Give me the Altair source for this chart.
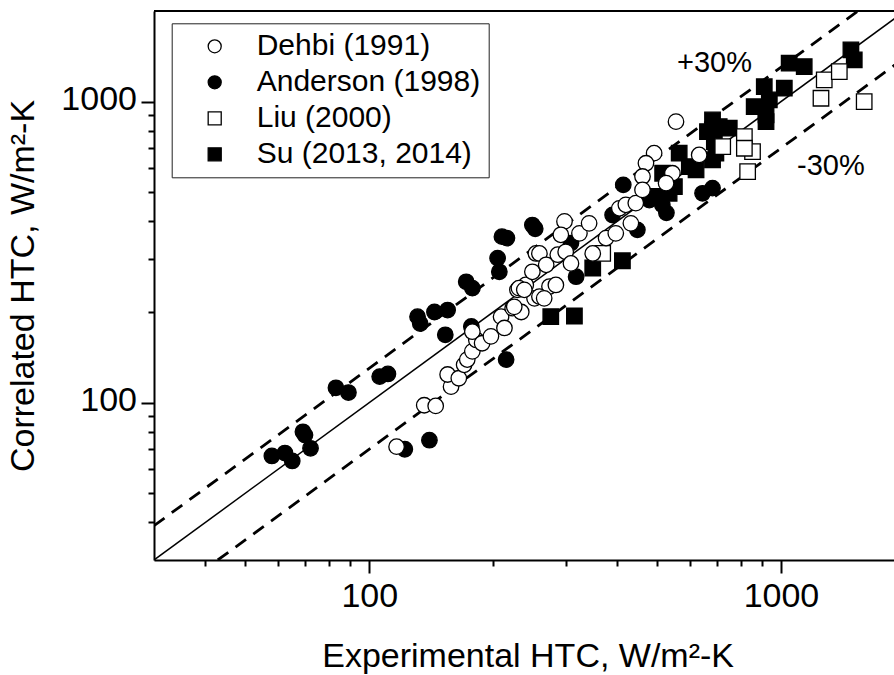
import altair as alt
import pandas as pd

SERIES = ["Dehbi (1991)", "Anderson (1998)", "Liu (2000)", "Su (2013, 2014)"]
SHAPES = ["circle", "circle", "square", "square"]
FILLS = ["white", "black", "white", "black"]
STROKES = ["black", "black", "black", "black"]

dehbi_x = [116.5, 136, 145, 158, 155, 165, 170, 173, 178, 182, 178, 188, 197.5, 209, 213, 223, 234,
           229, 240, 252, 249, 254, 298, 292, 324, 342, 376, 397, 259, 269, 287, 300, 309, 349, 274,
           284, 259, 266, 231, 238, 225, 405, 420, 432, 444, 556, 492, 470, 461, 633, 545, 526, 461]
dehbi_y = [71.4, 98, 97.5, 113, 124, 120.5, 133.5, 139, 148, 161.5, 172, 157.5, 166, 193, 177, 206, 200,
           237, 246, 222, 272, 313, 400, 361, 365, 394, 352, 365, 313, 287, 310, 317, 290, 313, 243,
           246, 225, 222, 240, 237, 208, 442, 454, 394, 460, 858, 674, 624, 564, 665, 578, 536, 509]

anderson_x = [58, 62.4, 65, 69, 69.8, 72, 83, 89, 106, 111, 122, 140, 131, 133, 144, 155, 153, 172, 178,
              205, 207, 210, 216, 249, 253, 215, 177, 318, 309, 390, 448, 515, 527, 645, 682, 414, 479]
anderson_y = [66.5, 68, 64, 80, 78, 70.5, 112, 108, 122, 124.5, 70, 75, 193, 183, 200, 203, 168, 252, 240,
              302, 272, 356, 352, 389, 378, 139, 179, 262, 339, 420, 375, 454, 427, 496, 516, 529, 471]

liu_x = [1274, 1386, 1251, 1593, 815, 853, 815, 722, 830, 369]
liu_y = [1181, 1258, 1026, 1000, 765, 682, 700, 709, 585, 313]

su_x = [1479, 1507, 1139, 1047, 911, 1019, 937, 861, 920, 920, 682, 708, 749, 663, 689, 695, 682, 566,
        622, 599, 516, 551, 535, 497, 349, 412, 276, 315]
su_y = [1485, 1376, 1307, 1342, 1121, 1108, 1013, 962, 903, 858, 869, 826, 816, 795, 736, 674, 640, 674,
        593, 608, 578, 522, 496, 484, 280, 296, 193, 194]

# reference lines (endpoints)
solid_x = [30, 2000]
solid_y = [30, 2000]
plus_x = [30, 1538.5]
plus_y = [39, 2000]
minus_x = [42.86, 2000]
minus_y = [30, 1400]

ann_text = ["+30%", "-30%"]
ann_x = [559, 1094]
ann_y = [1255, 571]

X_DOMAIN = [30, 1882]
Y_DOMAIN = [30, 2000]
X_TICKS = [40, 50, 60, 70, 80, 90, 100, 200, 300, 400, 500, 600, 700, 800, 900, 1000]
Y_TICKS = [40, 50, 60, 70, 80, 90, 100, 200, 300, 400, 500, 600, 700, 800, 900, 1000]

FONT = "Liberation Sans"
W, H = 740, 549

rows = []
for name, xs, ys in [(SERIES[1], anderson_x, anderson_y), (SERIES[3], su_x, su_y),
                     (SERIES[2], liu_x, liu_y), (SERIES[0], dehbi_x, dehbi_y)]:
    for a, b in zip(xs, ys):
        rows.append({"series": name, "exp": a, "corr": b})
df = pd.DataFrame(rows)

lines_df = pd.DataFrame(
    [{"g": "p", "x": a, "y": b} for a, b in zip(plus_x, plus_y)]
    + [{"g": "m", "x": a, "y": b} for a, b in zip(minus_x, minus_y)]
)
solid_df = pd.DataFrame({"x": solid_x, "y": solid_y})
ann_df = pd.DataFrame({"t": ann_text, "x": ann_x, "y": ann_y})

major = "datum.value == 100 || datum.value == 1000"

xscale = alt.Scale(type="log", domain=X_DOMAIN, nice=False)
yscale = alt.Scale(type="log", domain=Y_DOMAIN, nice=False)

x_axis = alt.Axis(
    values=X_TICKS,
    labelExpr=f"({major}) ? datum.value + '' : ''",
    tickSize={"condition": {"test": major, "value": 13}, "value": 6},
    tickWidth=2, tickColor="black", domainColor="black", domainWidth=2,
    grid=False, labelFont=FONT, labelFontSize=34, labelColor="black",
    labelBaseline="alphabetic", labelPadding=33.7, labelFlush=False, labelOverlap=False,
    title="Experimental HTC, W/m²-K", titleFont=FONT, titleFontSize=34,
    titleFontWeight="normal", titleColor="black", titleAlign="left",
    titleBaseline="alphabetic", titleX=167.7, titleY=106.7,
)
y_axis = alt.Axis(
    values=Y_TICKS,
    labelExpr=f"({major}) ? datum.value + '' : ''",
    tickSize={"condition": {"test": major, "value": 13}, "value": 6},
    tickWidth=2, tickColor="black", domainColor="black", domainWidth=2,
    grid=False, labelFont=FONT, labelFontSize=34, labelColor="black",
    labelBaseline="alphabetic", labelOffset=8.3, labelPadding=4.5,
    labelFlush=False, labelOverlap=False,
    title="Correlated HTC, W/m²-K", titleFont=FONT, titleFontSize=34,
    titleFontWeight="normal", titleColor="black", titleAlign="center",
    titleBaseline="alphabetic", titleAngle=270, titleX=-120.7, titleY=274.5,
)

legend = alt.Legend(
    title=None, orient="none", legendX=17.7, legendY=12.3,
    fillColor="white", strokeColor="#222", padding=8,
    labelFont=FONT, labelFontSize=30, labelColor="black", labelLimit=500,
    symbolSize=170, symbolStrokeColor="black", symbolStrokeWidth=1.3,
    rowPadding=6, symbolOffset=20, labelOffset=27,
)

solid = alt.Chart(solid_df).mark_line(color="black", strokeWidth=1.5, clip=True).encode(
    x=alt.X("x:Q", scale=xscale, axis=x_axis),
    y=alt.Y("y:Q", scale=yscale, axis=y_axis),
)
dashed = alt.Chart(lines_df).mark_line(
    color="black", strokeWidth=2.8, strokeDash=[13, 9], clip=True
).encode(x="x:Q", y="y:Q", detail="g:N")

points = alt.Chart(df).mark_point(
    filled=True, strokeWidth=1.3, opacity=1, size=240
).encode(
    x="exp:Q",
    y="corr:Q",
    shape=alt.Shape("series:N", scale=alt.Scale(domain=SERIES, range=SHAPES), legend=legend),
    fill=alt.Fill("series:N", scale=alt.Scale(domain=SERIES, range=FILLS), legend=legend),
    stroke=alt.Stroke("series:N", scale=alt.Scale(domain=SERIES, range=STROKES), legend=legend),
)

ann = alt.Chart(ann_df).mark_text(
    align="left", baseline="alphabetic", font=FONT, fontSize=29, color="black"
).encode(x="x:Q", y="y:Q", text="t:N")

top = alt.Chart(pd.DataFrame({"a": [0]})).mark_rule(color="black", strokeWidth=2).encode(
    y=alt.value(0), x=alt.value(0), x2=alt.value(W)
)

chart = alt.layer(solid, dashed, points, ann, top).properties(
    width=W, height=H,
    padding={"left": 154, "top": 11, "right": 0, "bottom": 115},
    autosize=alt.AutoSizeParams(type="none"),
).configure_view(stroke=None).configure_legend(orient="none", cornerRadius=0).configure(background="white")

chart.save("out.html", embed_options={"renderer": "svg", "actions": False})
